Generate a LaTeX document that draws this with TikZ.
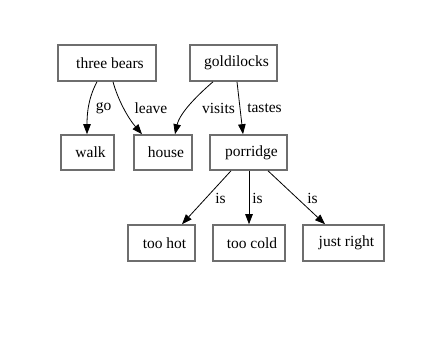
\documentclass[tikz,border=0pt]{standalone}
\usepackage{fontspec}
\setmainfont{Liberation Serif}
\usetikzlibrary{arrows.meta}
\definecolor{boxgray}{HTML}{6E6E6E}
\tikzset{
  x=1pt, y=-1pt,
  box/.style={draw=boxgray, line width=1.6pt, inner sep=0pt, font=\fontsize{15.5}{18}\selectfont},
  edge/.style={draw=black, line width=0.8pt, -{Triangle[length=10pt,width=7.5pt]}},
  lbl/.style={font=\fontsize{15.5}{18}\selectfont, inner sep=0pt}
}
\begin{document}
\begin{tikzpicture}
\useasboundingbox (0,0) rectangle (425,341);
% nodes
\node[box, minimum width=98pt, minimum height=36pt] (tb) at (107,63) {\hspace*{6pt}three bears};
\node[box, minimum width=87pt, minimum height=36pt] (gl) at (233.5,63) {\hspace*{6pt}goldilocks};
\node[box, minimum width=53pt, minimum height=35pt] (walk) at (87.5,152.5) {\hspace*{6pt}walk};
\node[box, minimum width=58pt, minimum height=35pt] (house) at (163,152.5) {\hspace*{6pt}house};
\node[box, minimum width=77pt, minimum height=35pt] (por) at (248.5,152.5) {\hspace*{6pt}porridge};
\node[box, minimum width=67pt, minimum height=36pt] (hot) at (161.5,243) {\hspace*{6pt}too hot};
\node[box, minimum width=72pt, minimum height=36pt] (cold) at (249,243) {\hspace*{6pt}too cold};
\node[box, minimum width=81pt, minimum height=36pt] (right) at (343.5,243) {\hspace*{6pt}just right};
% edges
\draw[edge] ([xshift=-10pt]tb.south) .. controls (91,93) and (87,106) .. ([xshift=-0.5pt]walk.north);
\draw[edge] ([xshift=6pt]tb.south) .. controls (118,100) and (128,118) .. ([xshift=-21pt]house.north);
\draw[edge] ([xshift=-20.5pt]gl.south) .. controls (200,93) and (180,112) .. ([xshift=12pt]house.north);
\draw[edge] ([xshift=3.5pt]gl.south) -- ([xshift=-5.5pt]por.north);
\draw[edge] ([xshift=-17.5pt]por.south) -- ([xshift=20.5pt]hot.north);
\draw[edge] ([xshift=0.5pt]por.south) -- ([xshift=0pt]cold.north);
\draw[edge] ([xshift=19.5pt]por.south) -- ([xshift=-18.5pt]right.north);
% labels
\node[lbl] (lgo) at (103.5,108) {go};
\node[lbl] (lleave) at (151,108) {leave};
\node[lbl] (lvisits) at (218.5,108) {visits};
\node[lbl] (ltastes) at (264.5,108) {tastes};
\node[lbl] (lis1) at (220.5,198) {is};
\node[lbl] (lis2) at (257.5,198) {is};
\node[lbl] (lis3) at (312.5,198) {is};
\end{tikzpicture}
\end{document}
